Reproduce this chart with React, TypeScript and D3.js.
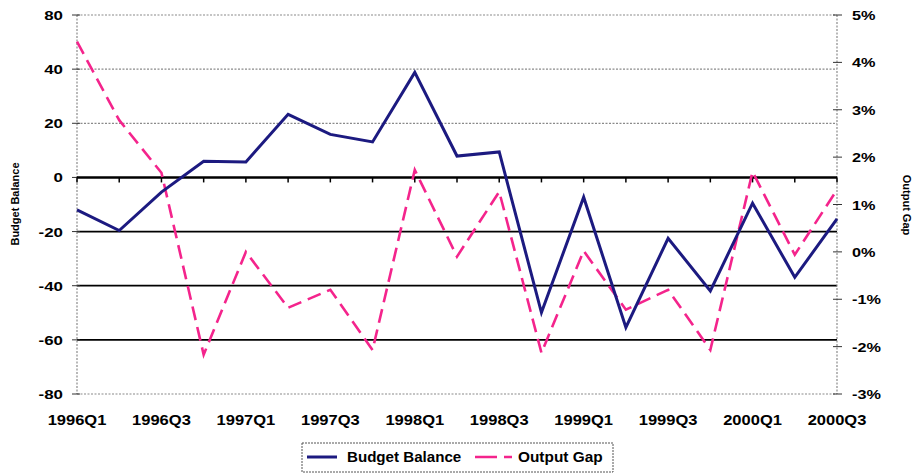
import React from "react";
import * as d3 from "d3";

// Quarterly categories, 1996Q1 – 2000Q3
const quarters = [
  "1996Q1", "1996Q2", "1996Q3", "1996Q4",
  "1997Q1", "1997Q2", "1997Q3", "1997Q4",
  "1998Q1", "1998Q2", "1998Q3", "1998Q4",
  "1999Q1", "1999Q2", "1999Q3", "1999Q4",
  "2000Q1", "2000Q2", "2000Q3",
];

// Budget balance (left axis)
const budgetBalance = [
  -12, -19.6, -5.4, 6, 5.7, 23.3, 15.9, 13.1, 38.8, 7.9,
  9.4, -49.9, -7.3, -55.4, -22.5, -41.9, -9.5, -36.9, -15.3,
];

// Output gap, percent (right axis)
const outputGap = [
  4.44, 2.78, 1.67, -2.17, 0.0, -1.18, -0.8, -2.07, 1.73, -0.1,
  1.27, -2.13, 0.02, -1.22, -0.8, -2.07, 1.69, -0.06, 1.31,
];

// Axis ticks and their printed labels
const leftTickValues = [60, 40, 20, 0, -20, -40, -60, -80];
const leftTickLabels = ["80", "40", "20", "0", "-20", "-40", "-60", "-80"];
const rightTickValues = [5, 4, 3, 2, 1, 0, -1, -2, -3];
const rightTickLabels = ["5%", "4%", "3%", "2%", "1%", "0%", "-1%", "-2%", "-3%"];
const xLabelQuarters = quarters.filter((_, i) => i % 2 === 0);

const W = 922;
const H = 473;
const left = 77;
const right = 837;
const top = 15;
const bottom = 394;

const NAVY = "#1c1a80";
const PINK = "#f4248c";
const FONT = "Arial, 'Liberation Sans', sans-serif";

function SText({ x, y, sx = 1.15, size = 14, anchor = "middle", weight = 700, children }) {
  return (
    <g transform={`translate(${x},${y}) scale(${sx},1)`}>
      <text textAnchor={anchor} fontSize={size} fontWeight={weight} fontFamily={FONT} fill="#000">
        {children}
      </text>
    </g>
  );
}

export default function App() {
  const x = d3.scalePoint<string>().domain(quarters).range([left, right]);
  const yL = d3.scaleLinear().domain([-80, 60]).range([bottom, top]);
  const yR = d3.scaleLinear().domain([-3, 5]).range([bottom, top]);

  const budgetLine = d3
    .line<number>()
    .x((_, i) => x(quarters[i])!)
    .y((d) => yL(d));
  const gapLine = d3
    .line<number>()
    .x((_, i) => x(quarters[i])!)
    .y((d) => yR(d));

  const zeroY = yL(0);

  return (
    <svg
      width={W}
      height={H}
      viewBox={`0 0 ${W} ${H}`}
      style={{ position: "absolute", left: 0, top: 0, background: "#fff" }}
    >
      {/* horizontal gridlines: dotted above zero, solid below */}
      {leftTickValues.map((v) => {
        const y = yL(v);
        if (v === 0) return null;
        const solid = v < 0 && v > -80;
        return (
          <line
            key={`g${v}`}
            x1={left}
            x2={right}
            y1={y}
            y2={y}
            stroke={solid ? "#000" : "#8a8a8a"}
            strokeWidth={solid ? 1.8 : 1.2}
            strokeDasharray={solid ? undefined : "2,1.5"}
          />
        );
      })}

      {/* vertical axis lines */}
      <line x1={left} x2={left} y1={top} y2={bottom} stroke="#8a8a8a" strokeWidth={1.2} strokeDasharray="2,1.5" />
      <line x1={right} x2={right} y1={top} y2={bottom} stroke="#8a8a8a" strokeWidth={1.2} strokeDasharray="2,1.5" />

      {/* left ticks and labels */}
      {leftTickValues.map((v, i) => (
        <g key={`l${v}`}>
          <line x1={left - 5} x2={left + 3} y1={yL(v)} y2={yL(v)} stroke="#333" strokeWidth={1} />
          <SText x={63} y={yL(v) + 5} anchor="end" size={13} sx={1.3}>
            {leftTickLabels[i]}
          </SText>
        </g>
      ))}

      {/* right ticks and labels */}
      {rightTickValues.map((v, i) => (
        <g key={`r${v}`}>
          <line x1={right - 4} x2={right + 5} y1={yR(v)} y2={yR(v)} stroke="#333" strokeWidth={1} />
          <SText x={852} y={yR(v) + 5} anchor="start" size={13} sx={1.25}>
            {rightTickLabels[i]}
          </SText>
        </g>
      ))}

      {/* category axis at zero */}
      <line x1={left} x2={right} y1={zeroY} y2={zeroY} stroke="#000" strokeWidth={2.6} />
      {quarters.map((q) => (
        <line key={`t${q}`} x1={x(q)} x2={x(q)} y1={zeroY} y2={zeroY + 5} stroke="#000" strokeWidth={1.5} />
      ))}

      {/* x labels */}
      {xLabelQuarters.map((q) => (
        <SText key={`x${q}`} x={x(q)!} y={425} size={14} sx={1.18}>
          {q}
        </SText>
      ))}

      {/* axis titles */}
      <text
        transform="translate(19,204) rotate(-90)"
        textAnchor="middle"
        fontSize={11}
        fontWeight={700}
        fontFamily={FONT}
      >
        Budget Balance
      </text>
      <text
        transform="translate(903,205) rotate(90)"
        textAnchor="middle"
        fontSize={11}
        fontWeight={700}
        fontFamily={FONT}
      >
        Output Gap
      </text>

      {/* series */}
      <path d={gapLine(outputGap) ?? ""} fill="none" stroke={PINK} strokeWidth={2.6} strokeDasharray="14,7" />
      <path d={budgetLine(budgetBalance) ?? ""} fill="none" stroke={NAVY} strokeWidth={3} strokeLinejoin="miter" />

      {/* legend */}
      <rect x={302} y={443} width={311} height={29} fill="#fff" stroke="#555" strokeWidth={1} strokeDasharray="2,1" />
      <line x1={307} x2={337} y1={457} y2={457} stroke={NAVY} strokeWidth={3} />
      <SText x={347} y={462} anchor="start" size={14} sx={1.08}>
        Budget Balance
      </SText>
      <line x1={475} x2={512} y1={457} y2={457} stroke={PINK} strokeWidth={2.6} strokeDasharray="22,7" />
      <SText x={518} y={462} anchor="start" size={14} sx={1.1}>
        Output Gap
      </SText>
    </svg>
  );
}
